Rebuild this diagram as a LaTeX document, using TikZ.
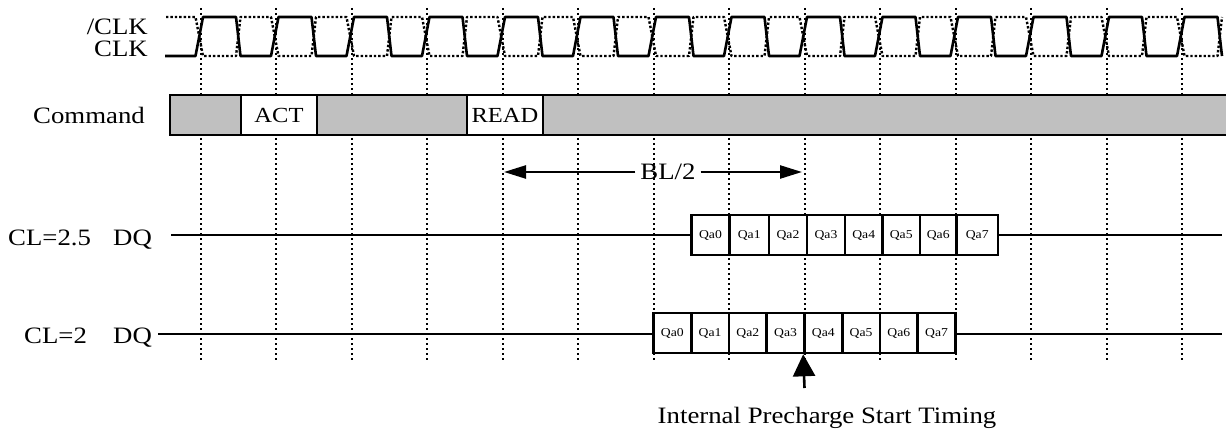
\documentclass[tikz,border=0pt]{standalone}
\usepackage{fontspec}
\setmainfont[FakeStretch=1.14]{Liberation Serif}
\usetikzlibrary{arrows.meta}
\definecolor{barfill}{RGB}{192,192,192}
\begin{document}
\begin{tikzpicture}[x=1pt,y=-1pt,
  sig/.style={line width=2.6pt, line join=round},
  nsig/.style={line width=2.4pt, dash pattern=on 2.4pt off 2pt, line join=round},
  gridline/.style={line width=2pt, dash pattern=on 2pt off 3pt},
  lbl/.style={font=\fontsize{23.5}{28}\selectfont, inner sep=0pt},
  cmdcell/.style={draw, line width=2.6pt, fill=white, minimum height=40pt, inner sep=0pt, font=\fontsize{21.5}{26}\selectfont},
  qcell/.style={draw, line width=2.6pt, fill=white, minimum height=40pt, inner sep=0pt, font=\fontsize{12}{14}\selectfont},
  duration/.style={line width=2.4pt, -{Triangle[length=22pt,width=13pt]}},
  marker/.style={line width=2.6pt, -{Triangle[length=22pt,width=22pt]}}
]
\useasboundingbox (0,0) rectangle (1226,433);
% vertical grid
\foreach \k in {0,...,13}
  \draw[gridline] ({200.5+75.5*\k},8) -- ({200.5+75.5*\k},360);
% clocks
\draw[nsig] (166,17) \foreach \k in {0,...,13} {
  -- ({200.5+75.5*\k-5},17) -- ({200.5+75.5*\k+2.5},56)
  -- ({200.5+75.5*\k+35.5},56) -- ({200.5+75.5*\k+40},17) };
\draw[sig] (165,56) \foreach \k in {0,...,13} {
  -- ({200.5+75.5*\k-5},56) -- ({200.5+75.5*\k+2.5},17)
  -- ({200.5+75.5*\k+35.5},17) -- ({200.5+75.5*\k+40},56) };
\node[lbl, anchor=base east] (nclk) at (148,34.5) {/CLK};
\node[lbl, anchor=base east] (clk) at (148,56.5) {CLK};
% command bar
\node[lbl, anchor=base east] (cmd) at (145,123.5) {Command};
\fill[barfill] (170,95) rectangle (1230,135);
\draw[line width=2.6pt] (1230,95) -- (170,95) -- (170,135) -- (1230,135);
\node[cmdcell, minimum width=76pt] (act) at (279,115) {ACT};
\node[cmdcell, minimum width=76pt] (read) at (505,115) {READ};
% BL/2
\node[lbl, inner sep=5pt] (bl) at (668,172) {BL/2};
\coordinate (blL) at (504,172);
\coordinate (blR) at (802,172);
\draw[duration] (bl) -- (blL);
\draw[duration] (bl) -- (blR);
% CL=2.5
\node[lbl, anchor=base west] (cla) at (8,245) {CL=2.5};
\node[lbl, anchor=base west] (dqa) at (113,245) {DQ};
\coordinate (la0) at (171,235);
\coordinate (la1) at (1222,235);
\draw[sig] (la0) -- (la1);
\foreach \a/\b [count=\i from 0] in {691.5/729.5,729.5/769,769/807,807/845,845/882.5,882.5/920,920/956.5,956.5/998}
  \node[qcell, minimum width={(\b-\a)*1pt}] (p\i) at ({(\a+\b)/2},235) {Qa\i};
% CL=2
\node[lbl, anchor=base west] (clb) at (24,343) {CL=2};
\node[lbl, anchor=base west] (dqb) at (113,343) {DQ};
\coordinate (lb0) at (158,334);
\coordinate (lb1) at (1222,334);
\draw[sig] (lb0) -- (lb1);
\foreach \i in {0,...,7}
  \node[qcell, minimum width=37.75pt] (r\i) at ({653.5+37.75*\i+18.875},333) {Qa\i};
% precharge marker
\coordinate (pcTail) at (804.5,388);
\draw[marker] (pcTail) -- (r4.south west);
\node[lbl] (pctext) at (827,418) {Internal Precharge Start Timing};
\end{tikzpicture}
\end{document}
